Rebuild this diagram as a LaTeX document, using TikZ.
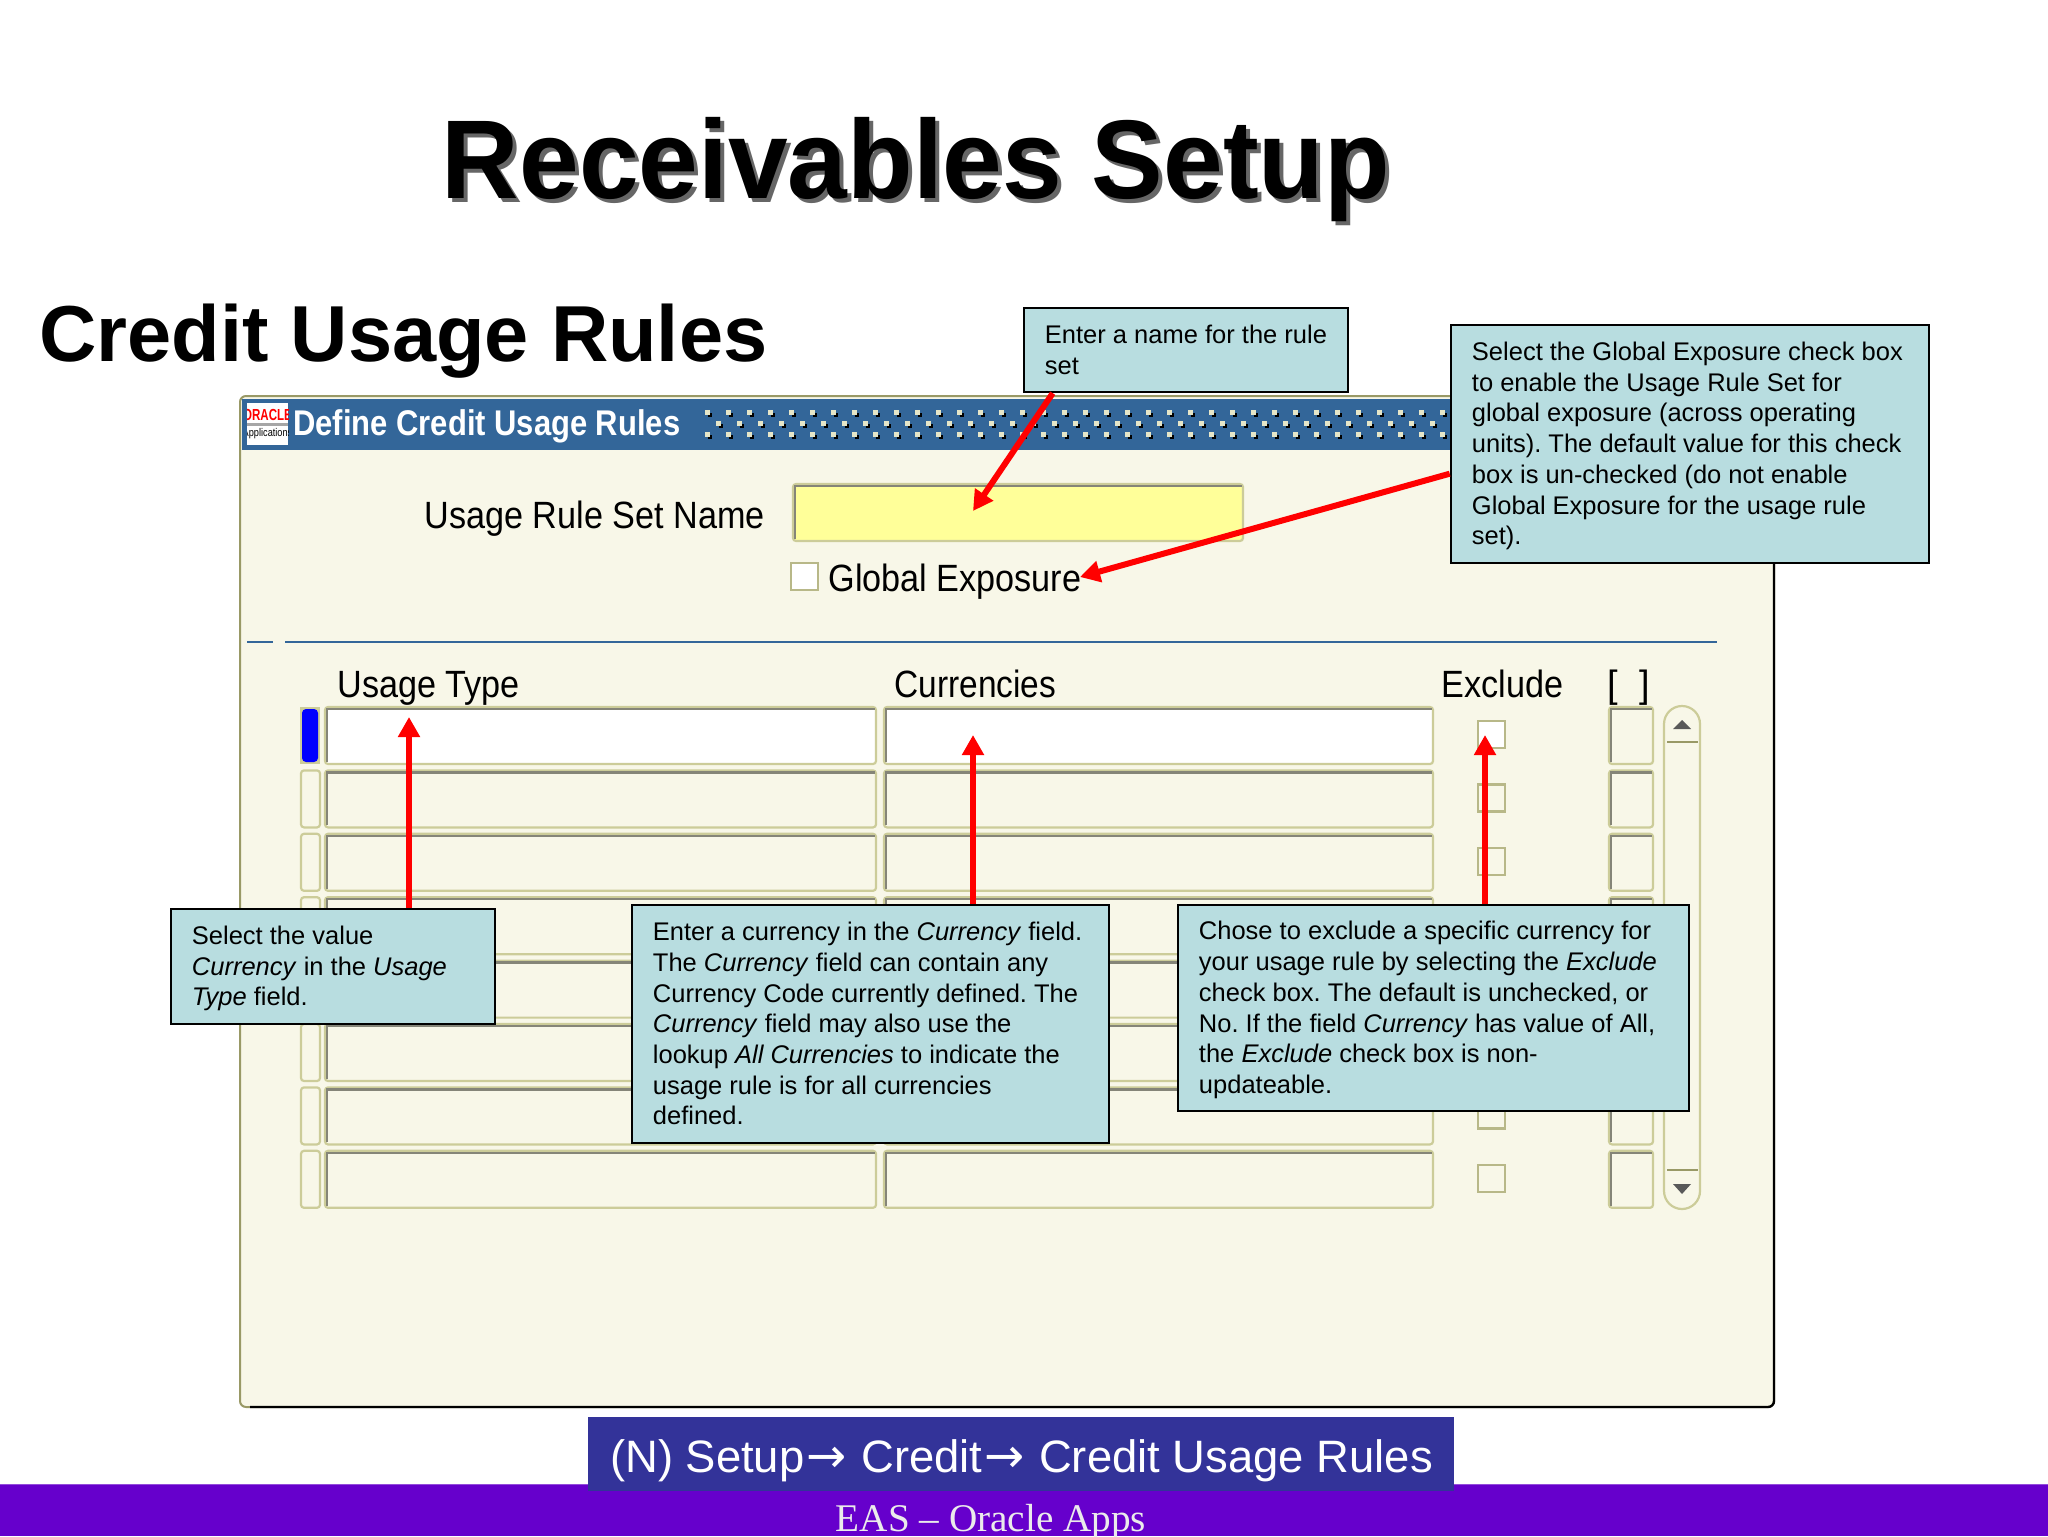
\documentclass[tikz,border=0pt]{standalone}
\usepackage{fontspec}
\setmainfont{Liberation Sans}
\newfontfamily\serifft{Liberation Serif}
\newfontfamily\arrowft{DejaVu Sans}
\usetikzlibrary{arrows.meta,calc}
\frenchspacing
\definecolor{winbg}{HTML}{F8F7E8}
\definecolor{olive}{HTML}{CCCC99}
\definecolor{olivedk}{HTML}{999966}
\definecolor{checkedge}{HTML}{B8B888}
\definecolor{fieldgray}{HTML}{858578}
\definecolor{barblue}{HTML}{336699}
\definecolor{callfill}{HTML}{B8DDE0}
\definecolor{navbox}{HTML}{333399}
\definecolor{footbar}{HTML}{6600CC}
\definecolor{reqyellow}{HTML}{FFFF99}
\definecolor{dotcream}{HTML}{E6E6C8}
\tikzset{
  x=0.5pt,y=-0.5pt,
  callout/.style={draw=black,line width=1.25pt,fill=callfill,anchor=north west,inner sep=0pt,
    font=\fontsize{12.75}{15.35}\selectfont,text=black},
  pointer/.style={draw=red,line width=3pt,-{Triangle[length=10pt,width=10.5pt]}},
  screenlabel/.style={anchor=base west,inner sep=0pt,font=\fontsize{19}{22}\selectfont,text=black},
  fieldbase/.style={draw=olive,line width=1.1pt,rounded corners=1.5pt},
  fieldedge/.style={draw=fieldgray,line width=1.2pt},
  checkbase/.style={draw=checkedge,line width=1.1pt},
}
\newcommand{\fieldbox}[5]{% x1 y1 x2 y2 fill
  \path[fieldbase,fill=#5] (#1,#2) rectangle (#3,#4);
  \draw[fieldedge] (#1+2,#4-2) -- (#1+2,#2+2) -- (#3-1,#2+2);
}
\newcommand{\narrowtext}[1]{\scalebox{0.9}[1]{#1}}
\newcommand{\calltext}[2]{\hbox to #1{\hskip 10.5pt\raisebox{-1.3pt}[\height][\depth]{\begin{tabular}{@{}l@{}}#2\end{tabular}}\hss}}
\begin{document}
\begin{tikzpicture}
\useasboundingbox (0,0) rectangle (2048,1536);
\fill[white] (0,0) rectangle (2048,1536);

% headings
\node[anchor=base,inner sep=0pt,text=black!60,font=\fontsize{56}{60}\selectfont\bfseries] (titleshadow) at (920,202) {\scalebox{0.958}[1]{Receivables Setup}};
\node[anchor=base,inner sep=0pt,text=black,font=\fontsize{56}{60}\selectfont\bfseries] (title) at (916,198) {\scalebox{0.958}[1]{Receivables Setup}};
\node[anchor=base west,inner sep=0pt,font=\fontsize{39.7}{44}\selectfont\bfseries] (subtitle) at (39,361) {Credit Usage Rules};

% window
\draw[draw=olivedk,line width=1pt,fill=winbg,rounded corners=3pt] (240,396) rectangle (1774,1407);
\draw[black,line width=1.2pt,rounded corners=3pt] (1774,420) -- (1774,1407) -- (250,1407);
\fill[barblue] (242,399) rectangle (1560,450);
\fill[white] (247,403) rectangle (288,445);
\begin{scope}
\clip (247,403) rectangle (288,445);
\node[inner sep=0pt,text=red,font=\fontsize{8}{8}\selectfont\bfseries] (logotop) at (267.5,415) {\scalebox{0.72}[1]{ORACLE}};
\fill[gray!70] (247,423) rectangle (288,426);
\node[inner sep=0pt,text=black,font=\fontsize{5.6}{6}\selectfont] (logobot) at (267.5,434) {\scalebox{0.82}[1]{Applications}};
\end{scope}
\node[anchor=base west,inner sep=0pt,text=white,font=\fontsize{17}{20}\selectfont\bfseries] (wintitle) at (293,435) {\scalebox{0.91}[1.05]{Define Credit Usage Rules}};
\foreach \k in {0,...,35}{
  \foreach \dx/\yy in {708/413,708/435,719/424}{
    \fill[black] (\dx+21*\k-0.5,\yy-0.5) rectangle (\dx+21*\k+3.5,\yy+3.5);
    \fill[dotcream] (\dx+21*\k-3,\yy-3) rectangle (\dx+21*\k+1.5,\yy+1.5);
  }
}

% form
\node[screenlabel] (lblname) at (424,528) {\narrowtext{Usage Rule Set Name}};
\fieldbox{793}{484}{1243}{541}{reqyellow}
\path[checkbase,fill=white] (791,563) rectangle (818,590);
\node[screenlabel] (lblglobal) at (828,591) {\narrowtext{Global Exposure}};
\draw[barblue,line width=1.3pt] (247,642) -- (273,642) (285,642) -- (1717,642);
\node[screenlabel] (lblusage) at (337,697) {\narrowtext{Usage Type}};
\node[screenlabel] (lblcurr) at (894,697) {\scalebox{0.88}[1]{Currencies}};
\node[screenlabel] (lblexcl) at (1441,697) {\narrowtext{Exclude}};
\node[screenlabel] (lblbr) at (1607,697) {[\hspace{11pt}]};

% grid rows
\foreach \r in {0,...,7}{
  \pgfmathsetmacro{\ya}{707+63.4*\r}
  \pgfmathsetmacro{\yb}{\ya+57}
  \pgfmathsetmacro{\yc}{\ya+14}
  \pgfmathsetmacro{\yd}{\ya+41}
  \ifnum\r=0
    \fill[olive] (300,\ya) rectangle (320,\yb);
    \fill[blue,rounded corners=2pt] (302,\ya+2) rectangle (318,\yb-2);
    \fieldbox{325}{\ya}{876}{\yb}{white}
    \fieldbox{884}{\ya}{1433}{\yb}{white}
    \path[checkbase,fill=white] (1478,\yc) rectangle (1505,\yd);
  \else
    \path[draw=olive,line width=1.1pt,fill=winbg,rounded corners=1.5pt] (301,\ya) rectangle (320,\yb);
    \fieldbox{325}{\ya}{876}{\yb}{winbg}
    \fieldbox{884}{\ya}{1433}{\yb}{winbg}
    \path[checkbase,fill=winbg] (1478,\yc) rectangle (1505,\yd);
  \fi
  \fieldbox{1609}{\ya}{1653}{\yb}{winbg}
}

% scrollbar
\draw[draw=olive,line width=1.1pt,fill=winbg] (1664,724) arc[start angle=180,end angle=360,radius=18] -- (1700,1191) arc[start angle=0,end angle=180,radius=18] -- cycle;
\draw[olivedk,line width=1.1pt] (1667,742) -- (1698,742) (1667,1170) -- (1698,1170);
\fill[black!65] (1673,729) -- (1691,729) -- (1682,720) -- cycle;
\fill[black!65] (1673,1184) -- (1691,1184) -- (1682,1194) -- cycle;

% pointer targets
\coordinate (t1) at (973,511);
\coordinate (t2) at (1080,577);
\coordinate (t3) at (409,717);
\coordinate (t4) at (973,735);
\coordinate (t5) at (1485,735);

% callouts
\node[callout,minimum height=42pt] (c1) at (1022.7,306.7)
  {\calltext{162pt}{Enter a name for the rule\\set}};
\node[callout,minimum height=119pt] (c2) at (1449.7,323.7)
  {\calltext{239pt}{Select the Global Exposure check box\\to enable the Usage Rule Set for\\global exposure (across operating\\units). The default value for this check\\box is un-checked (do not enable\\Global Exposure for the usage rule\\set).}};
\node[callout,minimum height=57.5pt] (c3) at (169.7,907.7)
  {\calltext{162pt}{Select the value\\\textit{Currency} in the \textit{Usage}\\\textit{Type} field.}};
\node[callout,minimum height=119pt] (c4) at (630.7,903.7)
  {\calltext{238.5pt}{Enter a currency in the \textit{Currency} field.\\The \textit{Currency} field can contain any\\Currency Code currently defined. The\\\textit{Currency} field may also use the\\lookup \textit{All Currencies} to indicate the\\usage rule is for all currencies\\defined.}};
\node[callout,minimum height=103pt] (c5) at (1176.7,903.7)
  {\calltext{255.5pt}{Chose to exclude a specific currency for\\your usage rule by selecting the \textit{Exclude}\\check box. The default is unchecked, or\\No. If the field \textit{Currency} has value of All,\\the \textit{Exclude} check box is non-\\updateable.}};

% pointers
\draw[pointer] ($(c1.south west)+(30,0)$) -- (t1);
\draw[pointer] ($(c2.north west)+(0,150)$) -- (t2);
\draw[pointer] (c3.north -| t3) -- (t3);
\draw[pointer] (c4.north -| t4) -- (t4);
\draw[pointer] (c5.north -| t5) -- (t5);

% footer
\fill[footbar] (0,1484) rectangle (2048,1536);
\draw[footbar!70!white,line width=0.5pt] (0,1484) -- (2048,1484);
\node[anchor=north west,fill=navbox,minimum width=433pt,minimum height=37pt,inner sep=0pt] (navbg) at (588,1417) {};
\node[anchor=base,inner sep=0pt,text=white,font=\fontsize{22.7}{26}\selectfont] (navtext) at (1021.5,1472)
  {(N) Setup\kern1pt{\arrowft\fontsize{24}{26}\selectfont→}\kern1pt\ Credit\kern1pt{\arrowft\fontsize{24}{26}\selectfont→}\kern1pt\ Credit Usage Rules};
\node[anchor=base,inner sep=0pt,text=white!92!black,font=\serifft\fontsize{19.6}{22}\selectfont] (foot) at (991,1531) {EAS – Oracle Apps};
\end{tikzpicture}
\end{document}
